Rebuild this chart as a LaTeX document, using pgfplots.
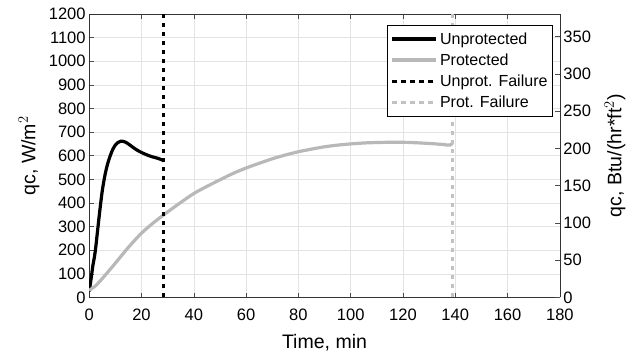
\documentclass[border=0pt]{standalone}
\usepackage{fontspec}
\setmainfont{Liberation Sans}
\usepackage{pgfplots}
\pgfplotsset{compat=1.18}
\definecolor{protgray}{gray}{0.72}
\definecolor{failgray}{gray}{0.76}
\definecolor{gridgray}{gray}{0.89}
\begin{document}
\begin{tikzpicture}
\pgfplotsset{
  every axis/.append style={
    scale only axis, width=470pt, height=283pt,
    /pgf/number format/assume math mode=true,
    /pgf/number format/1000 sep={},
    tick label style={font=\fontsize{16.5}{18}\selectfont},
    label style={font=\fontsize{19.5}{21}\selectfont},
    tick align=inside, major tick length=4.5pt,
    tick style={color=black!70, line width=0.5pt},
    xmin=0, xmax=180,
    scaled y ticks=false,
  }
}
\begin{axis}[
  name=main,
  axis y line*=left,
  ymin=0, ymax=1200,
  ytick={0,100,...,1200},
  xtick={0,20,...,180},
  xticklabel style={yshift=-8pt},
  grid=major, major grid style={gridgray, line width=0.5pt},
  xlabel={Time, min},
  ylabel={qc, W/m$^2$},
  ylabel style={at={(axis description cs:-0.1277,0.5)}, anchor=center},
  xlabel style={at={(axis description cs:0.5,0)}, anchor=base, yshift=-51pt},
  axis line style={black!80, line width=0.6pt},
  legend style={at={(rel axis cs:0.985,0.961)}, anchor=north east,
    font=\fontsize{16}{18}\selectfont, draw=black, line width=0.6pt,
    row sep=4pt, inner xsep=3pt, inner ysep=5pt, cells={anchor=west}},
  legend image code/.code={\draw[#1] (0pt,0pt) -- (44pt,0pt);},
]
\addplot[black, line width=3.2pt, smooth] coordinates {
(0,25) (0.5,60) (1,100) (1.5,140) (2,170) (2.5,210) (3,260) (4,360) (5,450) (6,515) (7,563) (8,598) (9,626) (10,645) (11,656) (12,661) (13,661) (14,657) (15,650) (16,642) (18,626) (20,614) (22,604) (24,596) (26,590) (28,582) (28.5,578)};
\addlegendentry{Unprotected}
\addplot[protgray, line width=3.2pt, smooth] coordinates {
(0,30) (2.5,50) (5,80) (7.5,112) (10,145) (15,212) (20,272) (25,320) (30,362) (35,402) (40,440) (45,470) (50,498) (55,525) (60,548) (65,568) (70,587) (75,603) (80,617) (85,628) (90,638) (95,645) (100,650) (105,654) (110,656) (115,657) (120,657) (125,655) (130,652) (135,648) (138,645) (139,656)};
\addlegendentry{Protected}
\addplot[black, line width=3.2pt, dash pattern=on 4.2pt off 4.8pt] coordinates {(28.5,0) (28.5,1200)};
\addlegendentry{Unprot. Failure}
\addplot[failgray, line width=3.2pt, dash pattern=on 4.2pt off 4.8pt] coordinates {(139,0) (139,1200)};
\addlegendentry{Prot. Failure}
\end{axis}
\begin{axis}[
  axis y line*=right, axis x line=none,
  ymin=0, ymax=380.4,
  ytick={0,50,...,350},
  ylabel={qc, Btu/(hr*ft$^2$)},
  ylabel style={at={(axis description cs:1.117,0.5)}, anchor=center},
  axis line style={black!80, line width=0.6pt},
]
\addplot[draw=none] coordinates {(0,0)};
\end{axis}
\pgfresetboundingbox
\path[use as bounding box] ([xshift=-89pt,yshift=-59pt]main.south west) rectangle ([xshift=69pt,yshift=14pt]main.north east);
\end{tikzpicture}
\end{document}
